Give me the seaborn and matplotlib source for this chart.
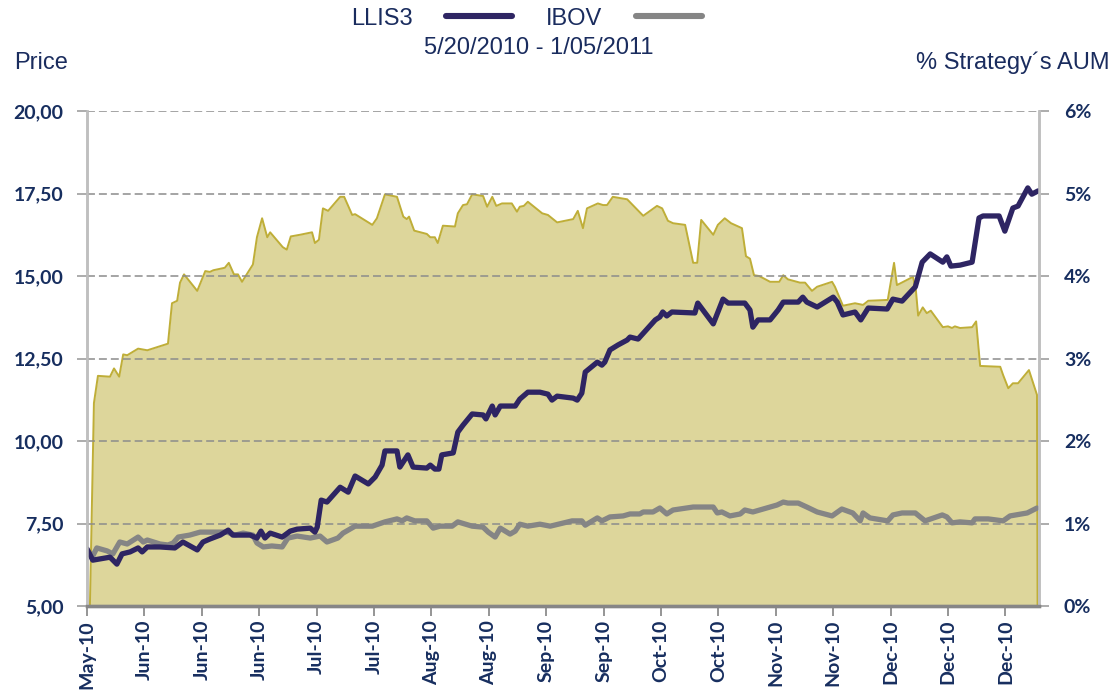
import matplotlib
matplotlib.use("Agg")
import matplotlib.pyplot as plt
import seaborn as sns

# x = trading session index counted from 5/20/2010 (one axis label every 10 sessions)
tick_labels = ["May-10", "Jun-10", "Jun-10", "Jun-10", "Jul-10", "Jul-10", "Aug-10",
               "Aug-10", "Sep-10", "Sep-10", "Oct-10", "Oct-10", "Nov-10", "Nov-10",
               "Dec-10", "Dec-10", "Dec-10"]
tick_pos = [0, 10, 20, 30, 40, 50, 60, 70, 80, 90, 100, 110, 120, 130, 140, 150, 160]
price_ticks = [5.0, 7.5, 10.0, 12.5, 15.0, 17.5, 20.0]
aum_ticks = [0, 1, 2, 3, 4, 5, 6]

# LLIS3 share price (left axis)
llis3_day = [0, 1.0, 4.0, 5.2, 6.1, 7.5, 8.9, 9.6, 10.5, 12.7, 15.3, 16.7, 19.2, 20.2,
             21.4, 23.2, 24.6, 25.4, 28.4, 29.6, 30.3, 31.0, 31.9, 34.0, 35.4, 36.6,
             38.9, 39.7, 40.1, 40.8, 41.8, 44.1, 45.5, 46.7, 49.0, 50.2, 51.4, 51.9,
             54.0, 54.5, 55.9, 56.8, 59.2, 59.8, 60.6, 61.3, 61.8, 63.8, 64.6, 65.5,
             67.1, 69.0, 69.5, 70.6, 71.1, 72.0, 74.6, 75.4, 76.8, 78.9, 80.3, 81.0,
             81.9, 84.7, 85.4, 86.2, 86.8, 88.9, 89.7, 90.2, 91.1, 92.5, 94.1, 94.6,
             96.0, 99.0, 99.8, 100.3, 101.0, 101.9, 105.9, 106.4, 109.1, 110.8, 111.7,
             114.6, 115.5, 116.0, 116.9, 119.0, 120.4, 121.3, 123.9, 124.7, 125.4,
             127.2, 130.0, 130.7, 131.7, 133.8, 134.8, 136.1, 139.4, 140.4, 142.0,
             144.3, 145.5, 146.9, 149.1, 149.8, 150.5, 152.1, 154.2, 155.4, 156.1,
             158.9, 159.9, 161.3, 162.2, 163.9, 164.6, 165.7]
llis3_price = [6.73, 6.39, 6.48, 6.27, 6.58, 6.64, 6.76, 6.64, 6.79, 6.79, 6.76, 6.94,
               6.70, 6.94, 7.03, 7.15, 7.30, 7.15, 7.15, 7.06, 7.27, 7.06, 7.21, 7.09,
               7.27, 7.33, 7.36, 7.24, 7.39, 8.21, 8.15, 8.60, 8.45, 8.94, 8.70, 8.91,
               9.27, 9.70, 9.70, 9.21, 9.58, 9.21, 9.18, 9.27, 9.15, 9.15, 9.58, 9.64,
               10.27, 10.48, 10.82, 10.79, 10.67, 11.06, 10.79, 11.06, 11.06, 11.27,
               11.48, 11.48, 11.42, 11.24, 11.36, 11.30, 11.24, 11.45, 12.09, 12.39,
               12.30, 12.39, 12.76, 12.91, 13.06, 13.15, 13.09, 13.67, 13.76, 13.91,
               13.79, 13.91, 13.88, 14.18, 13.55, 14.30, 14.18, 14.18, 13.97, 13.45,
               13.67, 13.67, 13.97, 14.21, 14.21, 14.36, 14.21, 14.06, 14.36, 14.21,
               13.82, 13.91, 13.67, 14.03, 14.00, 14.30, 14.24, 14.67, 15.42, 15.67,
               15.42, 15.58, 15.30, 15.33, 15.42, 16.76, 16.82, 16.82, 16.36, 17.06,
               17.12, 17.67, 17.48, 17.58]

# IBOV rebased to the LLIS3 starting price (left axis)
ibov_day = [0, 0.9, 1.7, 3.5, 4.5, 5.7, 7.0, 8.9, 9.8, 10.5, 12.7, 14.1, 15.0, 15.9,
            17.9, 19.7, 24.4, 25.8, 27.2, 28.9, 29.6, 30.7, 32.2, 34.0, 35.0, 36.6,
            38.9, 40.6, 41.8, 43.7, 44.6, 46.7, 49.7, 51.9, 54.0, 54.9, 55.7, 57.1,
            59.2, 60.3, 61.5, 63.6, 64.6, 67.1, 69.0, 69.9, 71.1, 72.0, 73.7, 74.6,
            75.4, 76.8, 78.9, 80.7, 84.5, 86.2, 86.8, 88.9, 89.7, 91.1, 93.4, 94.6,
            96.3, 96.9, 98.6, 99.8, 101.0, 102.1, 105.6, 109.1, 109.8, 110.6, 112.0,
            113.8, 114.6, 116.0, 120.2, 121.3, 122.1, 123.9, 125.4, 127.2, 129.8,
            131.5, 133.4, 134.7, 135.2, 136.4, 139.5, 140.4, 142.0, 144.3, 146.0,
            149.0, 149.8, 150.7, 152.1, 154.2, 154.7, 157.0, 159.6, 160.8, 163.8, 165.5]
ibov_price = [6.70, 6.48, 6.76, 6.67, 6.58, 6.94, 6.88, 7.09, 6.94, 7.00, 6.88, 6.85,
              6.91, 7.09, 7.15, 7.24, 7.24, 7.15, 7.21, 7.15, 6.91, 6.79, 6.82, 6.79,
              7.06, 7.12, 7.06, 7.12, 6.94, 7.06, 7.21, 7.42, 7.42, 7.55, 7.64, 7.58,
              7.67, 7.58, 7.58, 7.36, 7.42, 7.42, 7.55, 7.42, 7.39, 7.24, 7.09, 7.36,
              7.18, 7.27, 7.48, 7.42, 7.48, 7.42, 7.58, 7.58, 7.45, 7.67, 7.58, 7.70,
              7.73, 7.79, 7.79, 7.85, 7.85, 7.97, 7.79, 7.91, 8.00, 8.00, 7.82, 7.85,
              7.73, 7.79, 7.91, 7.85, 8.06, 8.15, 8.12, 8.12, 8.00, 7.85, 7.73, 7.94,
              7.82, 7.58, 7.82, 7.67, 7.58, 7.76, 7.82, 7.82, 7.58, 7.76, 7.70, 7.52,
              7.55, 7.52, 7.64, 7.64, 7.58, 7.73, 7.82, 7.97]

# position size as % of the strategy's AUM (right axis)
aum_day = [0.5, 1.2, 1.9, 4.0, 4.7, 5.6, 6.3, 7.0, 8.9, 10.5, 14.1, 14.8, 15.7, 16.2,
           16.9, 19.2, 20.6, 21.4, 22.0, 24.0, 24.7, 25.6, 26.3, 27.0, 28.9, 29.6,
           30.5, 31.4, 31.9, 34.1, 34.8, 35.5, 37.1, 39.2, 39.7, 40.4, 41.1, 42.0,
           44.1, 44.8, 46.2, 46.7, 49.7, 50.5, 51.9, 54.0, 55.1, 55.7, 56.1, 57.0,
           59.2, 59.8, 60.6, 61.1, 62.0, 64.1, 64.6, 65.5, 66.2, 67.1, 69.0, 69.7,
           70.6, 71.3, 72.3, 74.0, 74.9, 75.4, 76.1, 76.8, 79.3, 80.3, 81.9, 84.7,
           85.5, 86.4, 87.1, 89.0, 89.9, 90.6, 91.6, 94.1, 96.9, 99.3, 100.2, 101.2,
           102.1, 104.2, 105.6, 106.3, 107.0, 109.1, 109.9, 111.1, 112.2, 114.1,
           114.8, 115.5, 116.2, 117.1, 119.0, 120.6, 121.3, 122.1, 124.2, 125.1,
           126.3, 127.2, 129.8, 130.3, 131.7, 133.8, 135.2, 136.1, 139.5, 140.6,
           141.1, 143.9, 144.4, 144.8, 145.6, 146.3, 147.0, 149.1, 150.0, 150.7,
           151.2, 152.1, 154.2, 154.9, 155.6, 159.1, 159.6, 160.5, 161.3, 162.2,
           164.1, 165.5, 165.6]
aum_pct = [0.00, 2.46, 2.79, 2.78, 2.88, 2.78, 3.05, 3.04, 3.12, 3.10, 3.18, 3.67,
           3.70, 3.92, 4.02, 3.82, 4.06, 4.05, 4.07, 4.10, 4.16, 4.02, 4.02, 3.93,
           4.14, 4.47, 4.70, 4.47, 4.53, 4.35, 4.32, 4.48, 4.50, 4.53, 4.40, 4.44,
           4.82, 4.79, 4.96, 4.96, 4.74, 4.75, 4.62, 4.70, 4.99, 4.96, 4.72, 4.69,
           4.72, 4.55, 4.51, 4.47, 4.47, 4.40, 4.61, 4.60, 4.76, 4.86, 4.87, 4.99,
           4.97, 4.84, 4.96, 4.85, 4.88, 4.88, 4.78, 4.84, 4.85, 4.90, 4.76, 4.74,
           4.65, 4.69, 4.79, 4.58, 4.82, 4.88, 4.86, 4.86, 4.96, 4.93, 4.73, 4.85,
           4.82, 4.67, 4.64, 4.62, 4.16, 4.16, 4.68, 4.50, 4.62, 4.70, 4.64, 4.58,
           4.24, 4.21, 4.01, 4.00, 3.93, 3.93, 4.01, 3.96, 3.92, 3.92, 3.82, 3.87,
           3.93, 3.87, 3.64, 3.67, 3.65, 3.70, 3.71, 4.16, 3.89, 3.99, 3.83, 3.52,
           3.62, 3.55, 3.58, 3.38, 3.39, 3.37, 3.39, 3.37, 3.38, 3.45, 2.91, 2.90,
           2.80, 2.64, 2.70, 2.70, 2.86, 2.56, 0.00]

NAVY = "#172E5F"
TITLE = "#1A2C5E"
LLIS3_COLOR = "#2E2563"
IBOV_COLOR = "#858585"
FILL = "#DDD69B"
EDGE = "#BFAE38"
TITLEFONT = ["Liberation Sans", "DejaVu Sans"]
TICKFONT = ["Lato", "DejaVu Sans"]

sns.set_theme(style="white")
plt.rcParams["font.family"] = TICKFONT

fig = plt.figure(figsize=(11.13, 6.93), dpi=100)
ax = fig.add_axes([0.0782, 0.1255, 0.8553, 0.7143])
ax2 = ax.twinx()

# area series on the base axes, price lines on the twin so they sit on top
ax.fill_between(aum_day, aum_pct, color=FILL, linewidth=0)
sns.lineplot(x=aum_day, y=aum_pct, ax=ax, color=EDGE, linewidth=1.4)
sns.lineplot(x=ibov_day, y=ibov_price, ax=ax2, color=IBOV_COLOR, linewidth=3.8,
             label="IBOV")
sns.lineplot(x=llis3_day, y=llis3_price, ax=ax2, color=LLIS3_COLOR, linewidth=3.8,
             label="LLIS3")

ax.set_xlim(0, 165.85)
ax.set_ylim(0, 6)
ax2.set_ylim(5, 20)

# swap sides: price on the left, % AUM on the right
ax.yaxis.tick_right()
ax2.yaxis.tick_left()

ax.set_yticks(aum_ticks)
ax.set_yticklabels([f"{v}%" for v in aum_ticks], fontweight="bold")
ax2.set_yticks(price_ticks)
ax2.set_yticklabels([f"{v:.2f}".replace(".", ",") for v in price_ticks],
                    fontweight="bold")
ax.set_xticks(tick_pos)
ax.set_xticklabels(tick_labels, rotation=90, fontweight="bold")

ax.tick_params(axis="x", direction="out", length=7, width=1.3, color="#8C8C8C",
               pad=3, labelsize=14, labelcolor=NAVY, bottom=True)
ax.tick_params(axis="y", direction="out", length=7, width=1.3, color="#A6A6A6",
               pad=11, labelsize=14, labelcolor=NAVY, right=True, left=False)
ax2.tick_params(axis="y", direction="out", length=7, width=1.3, color="#A6A6A6",
                pad=10, labelsize=14, labelcolor=NAVY, left=True, right=False)

ax2.grid(axis="y", color="#8C8C8C", linewidth=1.1, linestyle=(0, (5.2, 2.6)))
ax.grid(False)
ax.set_xlabel("")
ax.set_ylabel("")
ax2.set_xlabel("")
ax2.set_ylabel("")

for a in (ax, ax2):
    a.spines["top"].set_visible(False)
    a.spines["left"].set_color("#BFBFBF")
    a.spines["right"].set_color("#BFBFBF")
    a.spines["left"].set_linewidth(1.8)
    a.spines["right"].set_linewidth(1.8)
    a.spines["bottom"].set_color("#868686")
    a.spines["bottom"].set_linewidth(2.4)

handles, labels = ax2.get_legend_handles_labels()
ax2.get_legend().remove()
order = [labels.index("LLIS3"), labels.index("IBOV")]
leg = fig.legend([handles[i] for i in order], [labels[i] for i in order],
                 loc="center", bbox_to_anchor=(0.473, 0.973), ncol=2,
                 frameon=False, markerfirst=False, handlelength=2.8,
                 handletextpad=1.4, columnspacing=1.45,
                 prop={"family": TITLEFONT, "size": 17}, labelcolor=TITLE)
for line in leg.get_lines():
    line.set_linewidth(4.4)

fig.text(539 / 1113, 1 - 48 / 693, "5/20/2010 - 1/05/2011", ha="center",
         va="center", fontsize=17, family=TITLEFONT, color=TITLE)
fig.text(14 / 1113, 1 - 63 / 693, "Price", ha="left", va="center",
         fontsize=17, family=TITLEFONT, color=TITLE)
fig.text(1110 / 1113, 1 - 63 / 693, "% Strategy\u00b4s AUM", ha="right",
         va="center", fontsize=17, family=TITLEFONT, color=TITLE)

fig.savefig("out.png", dpi=100)
